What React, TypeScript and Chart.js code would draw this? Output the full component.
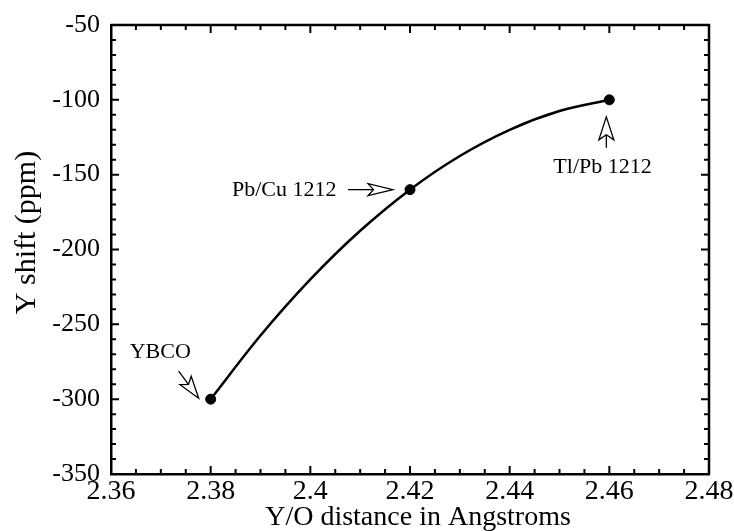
import React, { useEffect, useRef } from "react";
import { Chart, registerables } from "chart.js";

Chart.register(...registerables);

// Measured points
const pointX = [2.38, 2.42, 2.46];
const pointY = [-300, -160, -100];
// Fitted curve
const curveX = [2.38, 2.39, 2.4, 2.41, 2.42, 2.43, 2.44, 2.45, 2.46];
const curveY = [-300, -257.5, -220, -187.5, -160, -137.5, -120, -107.5, -100];
// Labels
const pointLabels = ["YBCO", "Pb/Cu 1212", "Tl/Pb 1212"];
const xTicks = [2.36, 2.38, 2.4, 2.42, 2.44, 2.46, 2.48];
const yTicks = [-350, -300, -250, -200, -150, -100, -50];
const xTitle = "Y/O distance in Angstroms";
const yTitle = "Y shift (ppm)";

const SERIF = "'Liberation Serif', 'DejaVu Serif', serif";

function drawArrow(ctx: CanvasRenderingContext2D, tx: number, ty: number, fx: number, fy: number, L: number, W: number) {
  const dx = tx - fx, dy = ty - fy;
  const len = Math.hypot(dx, dy);
  const ux = dx / len, uy = dy / len;
  const nx = -uy, ny = ux;
  const bx = tx - ux * L, by = ty - uy * L;
  const nox = tx - ux * L * 0.78, noy = ty - uy * L * 0.78;
  ctx.save();
  ctx.strokeStyle = "#000";
  ctx.lineWidth = 1.3;
  ctx.beginPath();
  ctx.moveTo(fx, fy);
  ctx.lineTo(nox, noy);
  ctx.stroke();
  ctx.beginPath();
  ctx.moveTo(tx, ty);
  ctx.lineTo(bx + nx * W, by + ny * W);
  ctx.lineTo(nox, noy);
  ctx.lineTo(bx - nx * W, by - ny * W);
  ctx.closePath();
  ctx.fillStyle = "#fff";
  ctx.fill();
  ctx.stroke();
  ctx.restore();
}

const decorPlugin = {
  id: "decor",
  afterDraw(chart: any) {
    const { ctx, chartArea: a, scales } = chart;
    const xs = scales.x, ys = scales.y;
    ctx.save();
    ctx.strokeStyle = "#000";
    ctx.lineWidth = 2.5;
    ctx.beginPath();
    ctx.moveTo(a.left, a.top);
    ctx.lineTo(a.right, a.top);
    ctx.lineTo(a.right, a.bottom);
    ctx.stroke();

    // inward ticks
    const MAJ = 8, MIN = 5;
    ctx.lineWidth = 2;
    ctx.beginPath();
    for (let i = 0; i < xTicks.length; i++) {
      const px = xs.getPixelForValue(xTicks[i]);
      ctx.moveTo(px, a.bottom); ctx.lineTo(px, a.bottom - MAJ);
      ctx.moveTo(px, a.top); ctx.lineTo(px, a.top + MAJ);
      if (i < xTicks.length - 1) {
        for (let k = 1; k < 4; k++) {
          const v = xTicks[i] + ((xTicks[i + 1] - xTicks[i]) * k) / 4;
          const p = xs.getPixelForValue(v);
          ctx.moveTo(p, a.bottom); ctx.lineTo(p, a.bottom - MIN);
          ctx.moveTo(p, a.top); ctx.lineTo(p, a.top + MIN);
        }
      }
    }
    for (let i = 0; i < yTicks.length; i++) {
      const py = ys.getPixelForValue(yTicks[i]);
      ctx.moveTo(a.left, py); ctx.lineTo(a.left + MAJ, py);
      ctx.moveTo(a.right, py); ctx.lineTo(a.right - MAJ, py);
      if (i < yTicks.length - 1) {
        for (let k = 1; k < 5; k++) {
          const v = yTicks[i] + ((yTicks[i + 1] - yTicks[i]) * k) / 5;
          const p = ys.getPixelForValue(v);
          ctx.moveTo(a.left, p); ctx.lineTo(a.left + MIN, p);
          ctx.moveTo(a.right, p); ctx.lineTo(a.right - MIN, p);
        }
      }
    }
    ctx.stroke();

    // axis titles
    ctx.fillStyle = "#000";
    ctx.font = `28px ${SERIF}`;
    ctx.textAlign = "center";
    ctx.textBaseline = "alphabetic";
    ctx.fillText(xTitle, (a.left + a.right) / 2 + 8, 525);
    ctx.save();
    ctx.translate(35, (a.top + a.bottom) / 2 - 17);
    ctx.rotate(-Math.PI / 2);
    ctx.font = `30px ${SERIF}`;
    ctx.fillText(yTitle, 0, 0);
    ctx.restore();

    // annotations
    const p0x = xs.getPixelForValue(pointX[0]), p0y = ys.getPixelForValue(pointY[0]);
    const p1x = xs.getPixelForValue(pointX[1]), p1y = ys.getPixelForValue(pointY[1]);
    const p2x = xs.getPixelForValue(pointX[2]), p2y = ys.getPixelForValue(pointY[2]);
    ctx.font = `22px ${SERIF}`;
    ctx.textAlign = "left";
    ctx.textBaseline = "middle";
    ctx.fillText(pointLabels[0], p0x - 81, p0y - 47);
    ctx.fillText(pointLabels[1], p1x - 178, p1y + 1);
    ctx.fillText(pointLabels[2], p2x - 56, p2y + 67);

    drawArrow(ctx, p0x - 12, p0y - 1, p0x - 32, p0y - 28, 22, 7);
    drawArrow(ctx, p1x - 17, p1y, p1x - 62, p1y, 25, 6);
    drawArrow(ctx, p2x - 3, p2y + 17, p2x - 3, p2y + 48, 23, 7.5);
    ctx.restore();
  },
};

export default function App() {
  const ref = useRef<HTMLCanvasElement | null>(null);
  useEffect(() => {
    document.body.style.margin = "0";
    const canvas = ref.current;
    if (!canvas) return;
    const chart = new Chart(canvas, {
      type: "scatter",
      data: {
        datasets: [
          {
            label: "points",
            data: pointX.map((x, i) => ({ x, y: pointY[i] })),
            pointRadius: 5,
            pointBackgroundColor: "#000",
            pointBorderColor: "#000",
            showLine: false,
          },
          {
            label: "fit",
            data: curveX.map((x, i) => ({ x, y: curveY[i] })),
            showLine: true,
            pointRadius: 0,
            borderColor: "#000",
            borderWidth: 2.5,
            cubicInterpolationMode: "monotone",
            fill: false,
          },
        ],
      },
      options: {
        responsive: false,
        animation: false,
        devicePixelRatio: 1,
        layout: { padding: { top: 25, right: 25, left: 0, bottom: 0 } },
        plugins: { legend: { display: false }, tooltip: { enabled: false } },
        scales: {
          x: {
            type: "linear",
            position: "bottom",
            min: 2.36,
            max: 2.48,
            afterBuildTicks: (s: any) => {
              s.ticks = xTicks.map((v) => ({ value: v }));
            },
            ticks: {
              color: "#000",
              font: { family: SERIF, size: 28 },
              padding: 1,
              maxRotation: 0,
              autoSkip: false,
              callback: (v: any) => String(Number(Number(v).toFixed(2))),
            },
            grid: { display: false, drawTicks: false },
            border: { display: true, color: "#000", width: 2.5 },
            afterFit: (s: any) => {
              s.height = 57;
              s.paddingLeft = 0;
              s.paddingRight = 0;
            },
          },
          y: {
            type: "linear",
            min: -350,
            max: -50,
            afterBuildTicks: (s: any) => {
              s.ticks = yTicks.map((v) => ({ value: v }));
            },
            ticks: {
              color: "#000",
              font: { family: SERIF, size: 26 },
              padding: 11,
              autoSkip: false,
              callback: (v: any) => String(v),
            },
            grid: { display: false, drawTicks: false },
            border: { display: true, color: "#000", width: 2.5 },
            afterFit: (s: any) => {
              s.width = 111;
              s.paddingTop = 0;
              s.paddingBottom = 0;
            },
          },
        },
      },
      plugins: [decorPlugin],
    } as any);
    return () => chart.destroy();
  }, []);
  return (
    <div style={{ width: 734, height: 531 }}>
      <canvas ref={ref} width={734} height={531} />
    </div>
  );
}
